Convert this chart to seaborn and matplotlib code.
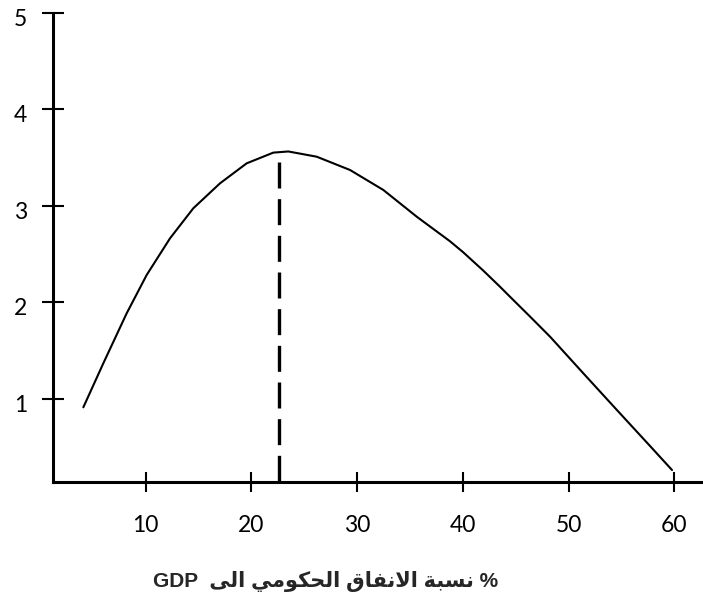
import matplotlib
matplotlib.use("Agg")
import matplotlib.pyplot as plt
import matplotlib.transforms as mtransforms
import seaborn as sns
import pandas as pd

# ---- data ----
spend_share = [4.10, 5.99, 8.20, 10.09, 12.30, 14.50, 17.03, 19.55, 22.07, 23.49,
               26.17, 29.33, 32.48, 35.64, 38.78, 40.04, 41.94, 43.50, 44.46,
               46.35, 48.25, 51.40, 54.55, 57.71, 59.79]
growth = [0.909, 1.365, 1.883, 2.280, 2.660, 2.971, 3.230, 3.437, 3.548, 3.560,
          3.506, 3.368, 3.161, 2.884, 2.630, 2.515, 2.325, 2.160, 2.055,
          1.850, 1.641, 1.261, 0.884, 0.508, 0.259]
optimum_x = [22.6, 22.6]
optimum_y = [3.45, 0.135]
x_ticks = [10, 20, 30, 40, 50, 60]
y_ticks = [1, 2, 3, 4, 5]
x_tick_labels = ["10", "20", "30", "40", "50", "60"]
y_tick_labels = ["1", "2", "3", "4", "5"]
# Arabic title written in shaped (presentation) forms, visual order
title_text = ("GDP  \uFEF0\uFEDF\uFE8D \uFEF2\uFEE3\uFEEE\uFEDC\uFEA4\uFEDF\uFE8D "
              "\uFED5\uFE8E\uFED4\uFEE7\uFEFB\uFE8D \uFE94\uFE92\uFEB4\uFEE7 %")

sns.set_style("ticks")
plt.rcParams["font.family"] = ["Lato", "DejaVu Sans"]

W, H = 703, 597
fig = plt.figure(figsize=(W / 100, H / 100), dpi=100)
ax = fig.add_axes([53 / W, (H - 482) / H, (703 - 53) / W, (482 - 12.5) / H])

df = pd.DataFrame({"x": spend_share, "y": growth})
sns.lineplot(data=df, x="x", y="y", ax=ax, color="black", linewidth=1.5,
             sort=False, estimator=None)
ax.lines[-1].set_solid_joinstyle("round")
dash_df = pd.DataFrame({"x": optimum_x, "y": optimum_y})
sns.lineplot(data=dash_df, x="x", y="y", ax=ax, color="black", linewidth=2.4,
             sort=False, estimator=None, dashes=False)
ax.lines[-1].set_dashes((7.8, 3.2))

ax.set_xlim(1.23, 62.72)
ax.set_ylim(0.135, 5.0)
ax.set_xticks(x_ticks)
ax.set_xticklabels(x_tick_labels)
ax.set_yticks(y_ticks)
ax.set_yticklabels(y_tick_labels)
ax.set_xlabel("")
ax.set_ylabel("")

for s in ["top", "right"]:
    ax.spines[s].set_visible(False)
for s in ["left", "bottom"]:
    ax.spines[s].set_linewidth(2.2)
    ax.spines[s].set_color("black")
    ax.spines[s].set_capstyle("projecting")

ax.tick_params(axis="both", direction="inout", width=1.5, color="black",
               labelsize=16.5, labelcolor="black")
ax.tick_params(axis="x", length=15, pad=16.5)
ax.tick_params(axis="y", length=16.5, pad=10.5)

offset = mtransforms.ScaledTranslation(0, -4.5 / 100, fig.dpi_scale_trans)
for lab in ax.get_yticklabels():
    lab.set_transform(lab.get_transform() + offset)

for line in ax.lines:
    line.set_clip_on(False)

fig.text(326 / W, 1 - 581 / H, title_text, ha="center", va="center",
         fontsize=15, fontweight="bold",
         family=["Liberation Sans", "DejaVu Sans"])

fig.savefig("out.png", dpi=100)
